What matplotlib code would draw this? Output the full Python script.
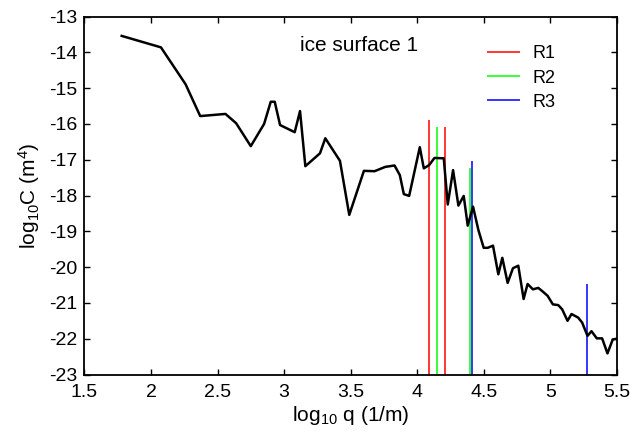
import numpy as np
import matplotlib
matplotlib.use('Agg')
import matplotlib.pyplot as plt

plt.rcParams['font.family'] = ['Liberation Sans', 'DejaVu Sans']
plt.rcParams['mathtext.fontset'] = 'custom'
plt.rcParams['mathtext.rm'] = 'Liberation Sans'
plt.rcParams['mathtext.it'] = 'Liberation Sans'

# power spectrum of the ice surface (log10 q, log10 C)
log_q = [1.78, 2.075, 2.26, 2.37, 2.56, 2.64, 2.75, 2.85, 2.90, 2.93, 2.97,
         3.08, 3.12, 3.16, 3.27, 3.31, 3.42, 3.49, 3.60, 3.68, 3.76, 3.83,
         3.87, 3.90, 3.94, 4.02, 4.05, 4.09, 4.13, 4.20, 4.23, 4.27, 4.31,
         4.35, 4.38, 4.42, 4.46, 4.50, 4.53, 4.57, 4.61, 4.64, 4.68, 4.72,
         4.76, 4.80, 4.83, 4.87, 4.91, 4.94, 4.98, 5.02, 5.06, 5.09, 5.13,
         5.16, 5.21, 5.24, 5.28, 5.31, 5.35, 5.39, 5.43, 5.47, 5.50]
log_C = [-13.54, -13.86, -14.89, -15.78, -15.72, -15.98, -16.62, -16.00,
         -15.38, -15.38, -16.03, -16.23, -15.64, -17.18, -16.82, -16.40,
         -17.03, -18.54, -17.31, -17.32, -17.20, -17.16, -17.43, -17.96,
         -18.01, -16.65, -17.24, -17.15, -16.95, -16.96, -18.25, -17.29,
         -18.28, -18.01, -18.84, -18.31, -18.96, -19.46, -19.46, -19.40,
         -20.20, -19.74, -20.44, -20.03, -19.96, -20.89, -20.47, -20.62,
         -20.58, -20.67, -20.80, -21.04, -21.06, -21.18, -21.50, -21.31,
         -21.41, -21.55, -21.92, -21.79, -21.99, -21.99, -22.41, -22.02,
         -22.00]

# cutoff markers: positions and heights
r1_q = [4.09, 4.21]
r1_top = [-15.89, -16.09]
r2_q = [4.146, 4.40]
r2_top = [-16.09, -17.24]
r3_q = [4.41, 5.28]
r3_top = [-17.04, -20.48]

fig = plt.figure(figsize=(6.3, 4.36), dpi=100)
ax = fig.add_axes([0.134, 0.141, 0.845, 0.821])

ax.plot(log_q, log_C, color='black', lw=1.8, zorder=3)
ax.vlines(r1_q, -23, r1_top, color='#ff0000', lw=1.1, label='R1')
ax.vlines(r2_q, -23, r2_top, color='#00ff00', lw=1.1, label='R2')
ax.vlines(r3_q, -23, r3_top, color='#0000ff', lw=1.1, label='R3')

ax.set_xlim(1.5, 5.5)
ax.set_ylim(-23, -13)
ax.set_xticks(np.arange(1.5, 5.51, 0.5))
ax.set_xticklabels(['1.5', '2', '2.5', '3', '3.5', '4', '4.5', '5', '5.5'])
ax.set_yticks(np.arange(-23, -12.9, 1))
ax.set_yticklabels([str(v) for v in range(-23, -12)])
ax.tick_params(direction='in', top=True, right=True, length=4, width=1,
               labelsize=14)
ax.tick_params(axis='x', pad=7)
ax.tick_params(axis='y', pad=5)
for s in ax.spines.values():
    s.set_linewidth(1.3)

ax.set_xlabel(r'log$_{10}$ q (1/m)', fontsize=15, labelpad=2)
ax.set_ylabel(r'log$_{10}$C (m$^4$)', fontsize=15, labelpad=5)
ax.text(0.405, 0.905, 'ice surface 1', transform=ax.transAxes, fontsize=15)

ax.legend(loc='upper right', bbox_to_anchor=(0.915, 0.965), frameon=False,
          fontsize=13, handlelength=1.8, handletextpad=0.7, labelspacing=0.4)

fig.savefig('out.png', dpi=100)
